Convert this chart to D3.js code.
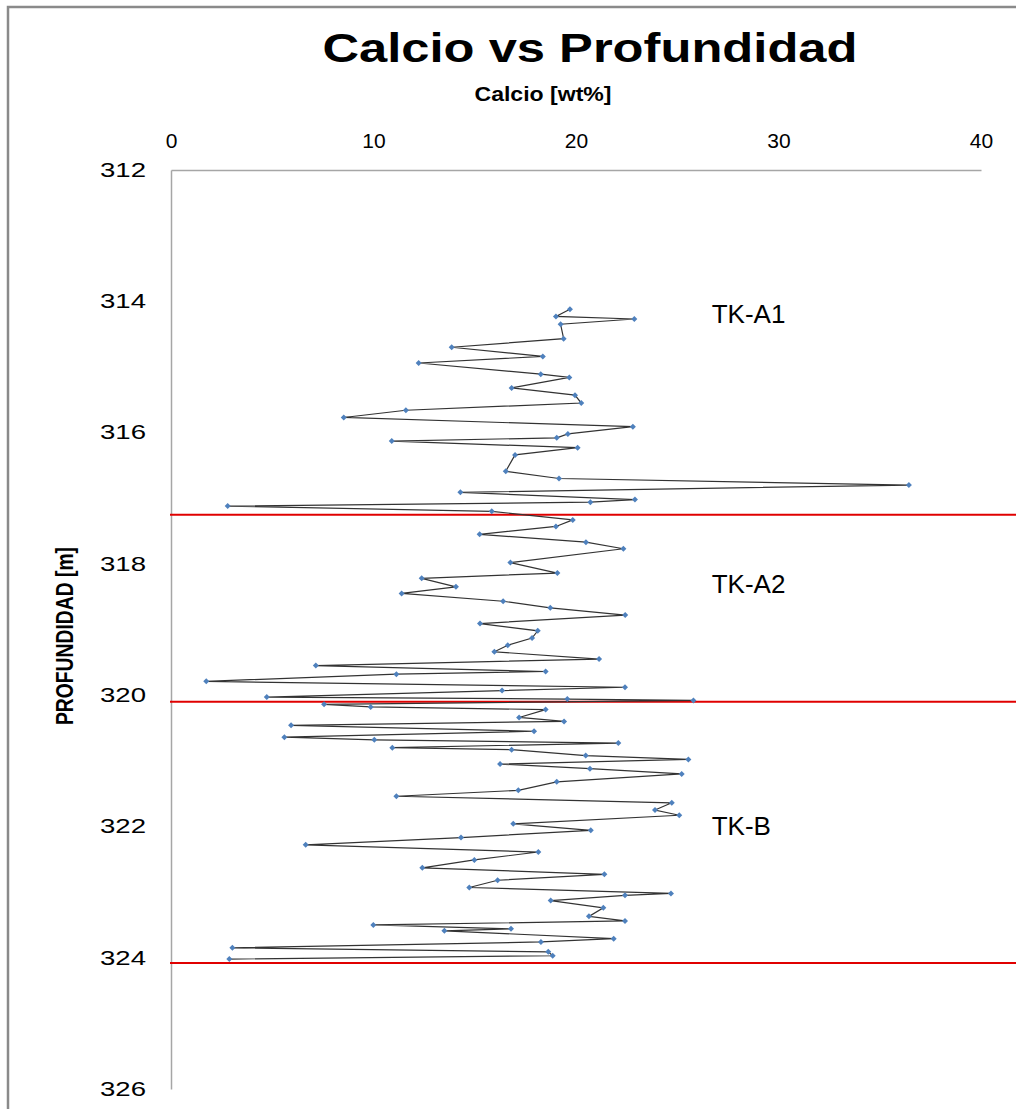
<!DOCTYPE html>
<html>
<head>
<meta charset="utf-8">
<script src="https://cdn.jsdelivr.net/npm/d3@7"></script>
<style>
  html, body { margin: 0; padding: 0; background: #fff; }
  svg { display: block; }
</style>
</head>
<body>
<svg id="chart" width="1016" height="1109"></svg>
<script>
// Calcium content (wt%) sampled down the core, depth in metres
const depth = [
  314.12, 314.23, 314.27, 314.35, 314.57, 314.70, 314.84, 314.94, 315.11, 315.16,
  315.32, 315.43, 315.55, 315.66, 315.77, 315.91, 316.02, 316.08, 316.13, 316.23,
  316.34, 316.59, 316.70, 316.80, 316.91, 317.02, 317.06, 317.12, 317.20, 317.33,
  317.43, 317.55, 317.67, 317.77, 317.98, 318.14, 318.22, 318.35, 318.45, 318.57,
  318.67, 318.78, 318.91, 319.02, 319.13, 319.24, 319.34, 319.45, 319.55, 319.64,
  319.68, 319.79, 319.88, 319.93, 320.03, 320.06, 320.08, 320.14, 320.18, 320.22,
  320.34, 320.40, 320.46, 320.55, 320.64, 320.68, 320.73, 320.80, 320.83, 320.92,
  320.98, 321.05, 321.12, 321.20, 321.32, 321.45, 321.54, 321.64, 321.75, 321.83,
  321.96, 322.06, 322.17, 322.28, 322.39, 322.51, 322.63, 322.73, 322.82, 322.93,
  323.02, 323.05, 323.13, 323.24, 323.37, 323.44, 323.50, 323.56, 323.59, 323.71,
  323.76, 323.85, 323.91, 323.97, 324.02
];
const calcio = [
  19.70, 19.01, 22.88, 19.24, 19.39, 13.86, 18.36, 12.23, 18.26, 19.67,
  16.82, 19.95, 20.26, 11.60, 8.53, 22.81, 19.60, 19.05, 10.90, 20.08,
  16.99, 16.53, 19.16, 36.44, 14.29, 22.91, 20.71, 2.80, 15.84, 19.84,
  19.01, 15.24, 20.49, 22.34, 16.76, 19.08, 12.38, 14.07, 11.39, 16.40,
  18.73, 22.43, 15.26, 18.11, 17.83, 16.63, 15.97, 21.14, 7.15, 18.50,
  11.13, 1.74, 22.42, 16.35, 4.73, 19.57, 25.80, 7.56, 9.86, 18.50,
  17.19, 19.41, 5.93, 17.93, 5.60, 10.04, 22.09, 10.93, 16.82, 20.48,
  25.55, 16.25, 20.69, 25.22, 19.05, 17.15, 11.13, 24.73, 23.90, 25.10,
  16.90, 20.73, 14.32, 6.65, 18.14, 14.98, 12.41, 21.40, 16.13, 14.73,
  24.69, 22.42, 18.75, 21.35, 20.64, 22.42, 9.99, 16.79, 13.50, 21.86,
  18.27, 3.03, 18.63, 18.85, 2.88
];

// Unit boundaries and unit names
const boundaryDepths = [317.25, 320.10, 324.08];
const unitNames = ["TK-A1", "TK-A2", "TK-B"];
const unitLabelCalcio = [26.7, 26.7, 26.7];
const unitLabelDepth = [314.33, 318.44, 322.13];

// Axis ticks
const xTicks = [0, 10, 20, 30, 40];
const yTicks = [312, 314, 316, 318, 320, 322, 324, 326];

const svg = d3.select("#chart");
const W = 1016, H = 1109;
const plot = { left: 171, right: 981, top: 170, bottom: 1089 };

const x = d3.scaleLinear().domain([0, 40]).range([plot.left, plot.right]);
const y = d3.scaleLinear().domain([312, 326]).range([plot.top, plot.bottom]);

// Outer chart frame (left and top edges)
svg.append("path")
  .attr("d", `M8,${H} L8,7 L${W + 5},7`)
  .attr("fill", "none")
  .attr("stroke", "#8a8a8a")
  .attr("stroke-width", 2.5);

// Title
svg.append("text")
  .attr("x", 590).attr("y", 62)
  .attr("text-anchor", "middle")
  .attr("font-family", "'Liberation Sans', Arial, sans-serif")
  .attr("font-weight", "bold")
  .attr("font-size", 40)
  .attr("textLength", 535)
  .attr("lengthAdjust", "spacingAndGlyphs")
  .attr("fill", "#000")
  .text("Calcio vs Profundidad");

// X axis title
svg.append("text")
  .attr("x", 543).attr("y", 101)
  .attr("text-anchor", "middle")
  .attr("font-family", "'Liberation Sans Narrow', 'Liberation Sans', Arial, sans-serif")
  .attr("font-weight", "bold")
  .attr("font-size", 21)
  .attr("textLength", 137)
  .attr("lengthAdjust", "spacingAndGlyphs")
  .attr("fill", "#000")
  .text("Calcio [wt%]");

// Y axis title
svg.append("text")
  .attr("transform", "translate(73,636) rotate(-90)")
  .attr("text-anchor", "middle")
  .attr("font-family", "'Liberation Sans Narrow', 'Liberation Sans', Arial, sans-serif")
  .attr("font-weight", "bold")
  .attr("font-size", 23)
  .attr("textLength", 178)
  .attr("lengthAdjust", "spacingAndGlyphs")
  .attr("fill", "#000")
  .text("PROFUNDIDAD [m]");

// Top axis
const xAxis = svg.append("g")
  .attr("transform", `translate(0,${plot.top})`)
  .call(d3.axisTop(x).tickValues(xTicks).tickSize(0).tickPadding(22).tickFormat(d3.format("d")));
xAxis.select(".domain").attr("stroke", "#a6a6a6").attr("stroke-width", 1.5);
xAxis.selectAll("text")
  .attr("font-family", "'Liberation Sans', Arial, sans-serif")
  .attr("font-size", 21)
  .attr("fill", "#000");

// Left axis
const yAxis = svg.append("g")
  .attr("transform", `translate(${plot.left},0)`)
  .call(d3.axisLeft(y).tickValues(yTicks).tickSize(0).tickPadding(25).tickFormat(d3.format("d")));
yAxis.select(".domain").attr("stroke", "#a6a6a6").attr("stroke-width", 1.5);
yAxis.selectAll("text")
  .attr("font-family", "'Liberation Sans', Arial, sans-serif")
  .attr("font-size", 20)
  .attr("textLength", 46)
  .attr("lengthAdjust", "spacingAndGlyphs")
  .attr("fill", "#000");

// Unit boundaries
svg.append("g").selectAll("line")
  .data(boundaryDepths)
  .join("line")
  .attr("x1", plot.left - 1).attr("x2", W)
  .attr("y1", d => y(d)).attr("y2", d => y(d))
  .attr("stroke", "#e00000")
  .attr("stroke-width", 2);

// Unit labels
svg.append("g").selectAll("text")
  .data(unitNames)
  .join("text")
  .attr("x", (d, i) => x(unitLabelCalcio[i]))
  .attr("y", (d, i) => y(unitLabelDepth[i]))
  .attr("font-family", "'Liberation Sans', Arial, sans-serif")
  .attr("font-size", 26)
  .attr("fill", "#000")
  .text(d => d);

const pts = depth.map((d, i) => ({ d, c: calcio[i] }));

// Profile line
svg.append("path")
  .datum(pts)
  .attr("fill", "none")
  .attr("stroke", "#333")
  .attr("stroke-width", 1.2)
  .attr("d", d3.line().x(p => x(p.c)).y(p => y(p.d)));

// Sample markers (small diamonds)
const diamond = d3.symbol().type(d3.symbolSquare).size(18);
svg.append("g").selectAll("path")
  .data(pts)
  .join("path")
  .attr("d", diamond)
  .attr("transform", p => `translate(${x(p.c)},${y(p.d)}) rotate(45)`)
  .attr("fill", "#4f81bd");
</script>
</body>
</html>
